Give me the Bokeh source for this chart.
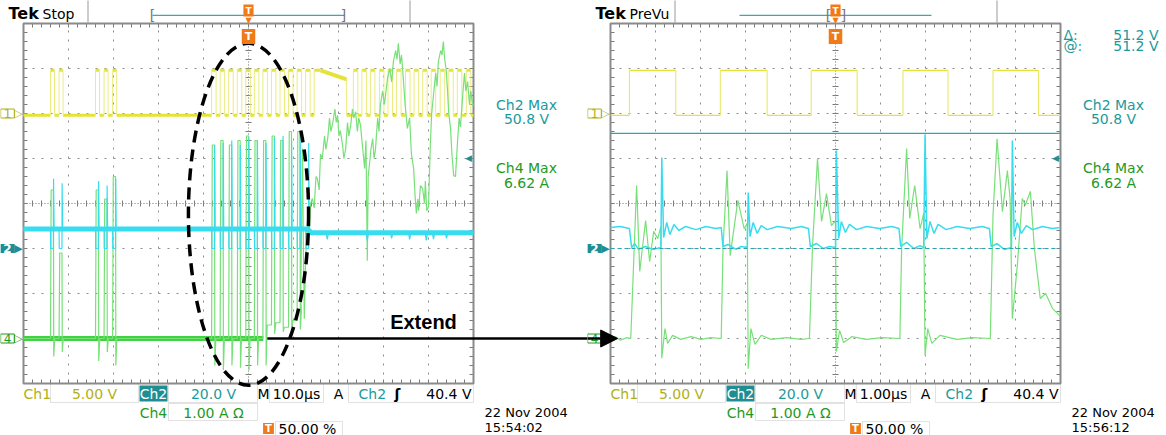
import numpy as np
from bokeh.plotting import figure
from bokeh.layouts import row
from bokeh.models import Range1d, Label, BoxAnnotation, Arrow, NormalHead
from bokeh.embed import file_html
from bokeh.resources import INLINE

# ---------------- scope settings ----------------
ch1_scale, ch2_scale, ch4_scale = 5.0, 20.0, 1.0      # V/div, V/div, A/div
ch1_pos, ch2_pos, ch4_pos = 2.0, -1.0, -3.0           # ground markers (div from centre)
trigger_level = 40.4                                  # V on Ch2
ch2_max, ch4_max = 50.8, 6.62
cursor_a, cursor_b = 0.0, 51.2                        # Ch2 cursors (V)
tb_stop, tb_prevu = 10.0, 1.0                         # µs/div
trigger_pos = 50.00                                   # %

# ---------------- left screen: Stop, 10 µs/div ----------------
ch1_high, ch1_low = 4.8, -0.2
ch1_stop_rise = [-44.0, -42.1, -34.0, -32.1, -30.2, -8.2, -6.3, -4.4, -2.5, -0.6, 1.3, 3.2,
                 5.1, 7.0, 8.9, 10.8, 12.7, 14.6, 23.3, 25.2, 27.1, 29.1, 31.0, 32.9, 34.9,
                 36.8, 38.7, 40.6, 42.6, 44.5, 46.4, 48.4]
ch1_stop_fall = [-43.1, -41.2, -33.1, -31.2, -29.3, -7.2, -5.3, -3.4, -1.5, 0.4, 2.3, 4.2,
                 6.1, 8.0, 9.9, 11.8, 13.7, 21.8, 24.3, 26.2, 28.1, 30.1, 32.0, 33.9, 35.9,
                 37.8, 39.7, 41.6, 43.6, 45.5, 47.4, 49.4]
ch1_stop_sag_t = [16.0, 21.8]
ch1_stop_sag_v = [4.8, 3.8]

ch2_stop_base_t = [-50.0, 13.0, 14.0, 50.0]
ch2_stop_base_v = [8.7, 8.7, 7.0, 7.0]
ch2_stop_pulse_t = [-44.0, -42.1, -34.0, -32.1, -30.2, -8.2, -6.3, -4.4, -2.5, -0.6, 1.3,
                    3.2, 5.1, 7.0, 8.9, 10.8, 12.7]
ch2_stop_peak = [31, 29, 30, 28, 31, 46, 47, 48, 46, 49, 48, 47, 49, 50, 48, 50.8, 47]
ch2_stop_dip_t = [17.5, 26.4, 31.8, 35.8, 39.5, 41.1, 44.0]
ch2_stop_dip_v = [4.0, 3.5, 4.5, 4.0, 3.6, 4.2, 4.5]
ch2_low_time = 0.65                                    # µs spent near 0 V per switching event

ch4_stop_base_t = [-50.0, 3.3]
ch4_stop_pulse_t = [-44.0, -42.1, -34.0, -32.1, -30.2, -8.2, -6.3, -4.4, -2.5, -0.6, 1.3,
                    3.2, 5.1, 7.0, 8.9, 10.8]
ch4_stop_peak = [3.3, 1.9, 3.3, 3.1, 3.6, 4.3, 4.4, 4.3, 4.4, 4.5, 4.4, 4.4, 4.5, 4.4, 4.6, 4.6]
ch4_stop_dip = [-0.4, -0.3, -0.5, -0.3, -0.6, -0.6, -0.7, -0.6, -0.65, -0.7, -0.6, -0.6,
                0.1, 0.15, 0.1, 0.2]
ch4_stop_floor = [0, 0, 0, 0, 0, 0, 0, 0, 0, 0, 0, 0.3, 0.35, 0.25, 0.4, 0.6]
ch4_stop_tail_t = [11.6, 11.8, 12.0, 12.2, 12.4, 12.7, 13.1, 13.5, 13.8, 14.2, 14.6, 15.0,
                   15.3, 15.7, 16.0, 16.4, 16.9, 17.2, 17.6, 18.0, 18.3, 18.7, 19.2, 19.5,
                   19.8, 20.1, 20.4, 20.9, 21.2, 21.6, 22.0, 22.3, 22.7, 23.1, 23.4, 23.8,
                   24.2, 24.5, 24.9, 25.3, 25.8, 26.1, 26.4, 26.6, 26.9, 27.2, 27.6, 27.9,
                   28.2, 28.7, 29.0, 29.3, 29.8, 30.2, 30.9, 31.4, 31.8, 32.2, 32.7, 33.0,
                   33.3, 33.7, 34.0, 34.4, 34.8, 35.3, 35.8, 36.2, 36.7, 37.0, 37.3, 37.6,
                   37.8, 38.2, 38.7, 39.1, 39.3, 39.6, 40.0, 40.4, 40.7, 41.1, 41.6, 41.9,
                   42.2, 42.7, 43.0, 43.3, 43.6, 43.9, 44.2, 44.5, 44.9, 45.2, 45.6, 46.0,
                   46.4, 46.8, 47.1, 47.6, 48.0, 48.3, 48.7, 49.1, 49.4, 49.8, 50.0]
ch4_stop_tail_a = [0.89, 2.5, 4.22, 2.0, 0.44, 1.8, 2.6, 2.3, 3.0, 3.11, 2.9, 3.6,
                   3.56, 3.3, 4.1, 4.0, 4.5, 4.2, 4.44, 4.9, 4.6, 4.78, 5.1, 4.8,
                   4.96, 4.5, 4.62, 4.3, 4.0, 4.22, 4.8, 4.5, 4.73, 5.1, 4.9, 5.04,
                   4.6, 4.9, 4.73, 4.3, 3.78, 4.4, 1.73, 3.6, 3.89, 4.2, 4.44, 4.0,
                   4.18, 4.9, 4.6, 5.18, 5.5, 5.2, 5.78, 6.0, 5.7, 6.16, 6.4, 6.2,
                   6.56, 6.1, 6.3, 5.78, 5.2, 4.67, 4.9, 4.1, 3.78, 3.2, 2.78, 3.1,
                   2.84, 3.4, 3.33, 3.0, 3.5, 2.84, 2.93, 4.29, 5.0, 5.4, 5.9, 5.6,
                   6.16, 6.4, 6.3, 6.6, 6.2, 6.0, 5.56, 5.0, 4.67, 4.1, 3.62, 3.6,
                   4.29, 4.9, 4.7, 5.4, 5.9, 5.5, 5.71, 5.2, 5.5, 5.18, 5.22]

# ---------------- right screen: PreVu, 1 µs/div ----------------
ch1_prevu_rise = [-4.58, -2.56, -0.54, 1.50, 3.50]
ch1_prevu_fall = [-3.55, -1.52, 0.48, 2.50, 4.51]

ch2_prevu_t = [-5.0, -4.78, -4.58, -4.53, -4.46, -4.38, -4.22, -4.06, -3.88, -3.86,
               -3.82, -3.75, -3.68, -3.59, -3.48, -3.33, -3.10, -2.88, -2.66, -2.54,
               -2.50, -2.39, -2.21, -2.10, -1.96, -1.94, -1.90, -1.83, -1.74, -1.65,
               -1.52, -1.29, -0.98, -0.76, -0.60, -0.56, -0.42, -0.27, -0.13, 0.0,
               0.02, 0.07, 0.13, 0.22, 0.31, 0.47, 0.69, 0.98, 1.25, 1.41,
               1.45, 1.58, 1.74, 1.88, 1.96, 1.99, 2.03, 2.10, 2.19, 2.28,
               2.46, 2.70, 2.99, 3.26, 3.42, 3.46, 3.59, 3.75, 3.91, 3.93,
               3.97, 4.04, 4.13, 4.24, 4.38, 4.60, 4.82, 5.0]
ch2_prevu_v = [9.3, 9.8, 8.9, 0.4, 2.2, -0.4, 0.9, -0.4, 0.4, 40.4,
               4.9, 11.6, 6.2, 10.7, 8.0, 9.8, 8.4, 9.8, 8.9, 9.3,
               0.9, 1.8, -0.4, 0.9, 0.4, 24.9, 5.3, 11.6, 6.7, 10.2,
               8.4, 9.8, 8.9, 9.8, 8.9, 0.9, 2.2, 0.0, 0.9, 0.4,
               43.6, 4.4, 12.0, 7.1, 10.7, 8.4, 9.8, 8.9, 9.8, 8.9,
               0.9, 2.7, 0.0, 1.3, 0.4, 50.8, 4.4, 12.0, 6.7, 10.7,
               8.4, 9.8, 8.9, 9.8, 8.9, 0.9, 2.2, -0.4, 0.4, 48.0,
               5.3, 11.6, 6.7, 10.2, 8.4, 9.8, 8.9, 9.3]

ch4_prevu_t = [-5.0, -4.89, -4.78, -4.64, -4.55, -4.42, -4.35, -4.22, -4.13, -4.04,
               -3.95, -3.88, -3.86, -3.79, -3.73, -3.62, -3.44, -3.21, -2.99, -2.77,
               -2.54, -2.50, -2.41, -2.34, -2.17, -2.03, -1.96, -1.94, -1.88, -1.79,
               -1.65, -1.43, -1.09, -0.76, -0.58, -0.51, -0.40, -0.31, -0.20, -0.09,
               0.0, 0.02, 0.09, 0.18, 0.36, 0.69, 1.03, 1.43, 1.47, 1.58,
               1.65, 1.76, 1.88, 1.96, 1.99, 2.05, 2.14, 2.32, 2.70, 3.04,
               3.44, 3.50, 3.59, 3.71, 3.82, 3.88, 3.93, 4.04, 4.15, 4.22,
               4.33, 4.42, 4.55, 4.67, 4.82, 5.0]
ch4_prevu_a = [0.0, 0.04, -0.04, 0.02, 0.0, 3.4, 1.49, 2.62, 1.71, 2.38,
               2.22, 2.49, -0.44, 0.22, -0.11, 0.07, -0.02, 0.04, -0.02, 0.02,
               0.0, 2.0, 3.73, 1.84, 3.07, 2.44, 2.56, -0.67, 0.22, -0.13,
               0.07, -0.02, 0.02, -0.02, 0.0, 2.07, 4.0, 2.6, 3.22, 2.51,
               2.62, -0.29, 0.18, -0.09, 0.04, -0.02, 0.02, 0.0, 2.0, 4.22,
               2.67, 3.4, 2.44, 2.78, -0.38, 0.22, -0.11, 0.07, -0.02, 0.02,
               0.0, 2.73, 4.44, 2.82, 3.73, 3.11, 0.44, 1.62, 3.11, 2.96,
               3.27, 2.0, 0.89, 1.0, 0.67, 0.49]

# ---------------- styling / screen geometry ----------------
FONT = "DejaVu Sans"
YELLOW, YELLOW_THIN = "#e4e436", "#ecec80"
CYAN, GREEN, GREEN_THIN = "#38dcef", "#3fd43f", "#78e078"
CH1_TXT, CH2_TXT, CH2_BADGE, CH4_TXT = "#b0b016", "#1b9a9c", "#1f8e93", "#1e9a1e"
ORANGE, GRAY = "#ef7a17", "#8c8c8c"
DIV = 45                  # pixels per graticule division
M_LEFT, M_TOP, M_BOTTOM = 23, 23, 52
HEIGHT = 435


def lbl(p, x, y, text, color="black", size=14, align="center", bold=False, bg=None,
        border=None, pad=0, xu="screen", yu="screen", yr="default", font=FONT):
    """Text placed relative to the graticule's lower-left corner (screen units)."""
    if xu == "screen":
        x = x + M_LEFT
    if yu == "screen":
        y = y + M_BOTTOM
    p.add_layout(Label(x=x, y=y, x_units=xu, y_units=yu, y_range_name=yr, text=text,
                       text_color=color, text_font=font, text_font_size=f"{size}px",
                       text_font_style="bold" if bold else "normal", text_align=align,
                       text_baseline="middle", background_fill_color=bg,
                       border_line_color=border, padding=pad))


def sbox(p, l, r, b, t, fill=None, line="#a0a0a0"):
    p.add_layout(BoxAnnotation(left=l + M_LEFT, right=r + M_LEFT, bottom=b + M_BOTTOM,
                               top=t + M_BOTTOM, left_units="screen", right_units="screen",
                               bottom_units="screen", top_units="screen",
                               fill_color=fill, fill_alpha=1.0 if fill else 0.0,
                               line_color=line, line_width=1, level="underlay"))


def make_scope(width, tb):
    half = 5 * tb
    x0 = -half - M_LEFT / DIV * tb
    y0 = -4 - M_BOTTOM / DIV
    y1 = y0 + HEIGHT / DIV
    p = figure(width=width, height=HEIGHT, output_backend="svg", toolbar_location=None,
               x_range=Range1d(x0, x0 + width / DIV * tb), y_range=Range1d(y0, y1),
               x_axis_location=None, y_axis_location=None, min_border=0,
               outline_line_color=None, background_fill_color="white",
               border_fill_color="white")
    p.grid.visible = False
    p.extra_y_ranges = {
        "ch1": Range1d((y0 - ch1_pos) * ch1_scale, (y1 - ch1_pos) * ch1_scale),
        "ch2": Range1d((y0 - ch2_pos) * ch2_scale, (y1 - ch2_pos) * ch2_scale),
        "ch4": Range1d((y0 - ch4_pos) * ch4_scale, (y1 - ch4_pos) * ch4_scale),
    }
    # graticule: dotted division lines
    xs = [k * tb for k in (-4, -3, -2, -1, 1, 2, 3, 4)]
    ys = [-3, -2, -1, 1, 2, 3]
    p.segment(x0=xs, y0=-4, x1=xs, y1=4, line_color=GRAY, line_dash="2 7", line_width=1)
    p.segment(x0=-half, y0=ys, x1=half, y1=ys, line_color=GRAY, line_dash="2 7", line_width=1)
    p.segment(x0=[0, -half], y0=[-4, 0], x1=[0, half], y1=[4, 0], line_color="#707070",
              line_dash="1 2", line_width=1)
    # fifth-of-division ticks on the border and on the centre lines
    xt = [round(k * tb / 5, 6) for k in range(-24, 25)]
    yt = [round(k / 5, 6) for k in range(-19, 20)]
    tick = dict(length_units="screen", line_color="#7a7a7a", line_width=1)
    p.ray(x=xt, y=-4, length=4, angle=np.pi / 2, **tick)
    p.ray(x=xt, y=4, length=4, angle=-np.pi / 2, **tick)
    p.ray(x=-half, y=yt, length=4, angle=0, **tick)
    p.ray(x=half, y=yt, length=4, angle=np.pi, **tick)
    p.ray(x=xt, y=0, length=3, angle=np.pi / 2, **tick)
    p.ray(x=xt, y=0, length=3, angle=-np.pi / 2, **tick)
    p.ray(x=0, y=yt, length=3, angle=0, **tick)
    p.ray(x=0, y=yt, length=3, angle=np.pi, **tick)
    p.quad(left=-half, right=half, bottom=-4, top=4, fill_color=None,
           line_color="#8a8a8a", line_width=2)
    return p


def chrome(p, status, tb_text, date_text, time_text, prevu):
    # status bar
    lbl(p, -15, 370, "Tek", size=16, align="left", bold=True)
    lbl(p, 19, 370, status, size=14, align="left")
    sbox(p, 64, 65, 361, 384, fill="#9a9a9a", line=None)
    sbox(p, 386, 387, 361, 384, fill="#9a9a9a", line=None)
    sbox(p, 129, 321, 367.6, 368.8, fill="#3aa9b4", line=None)
    if prevu:
        lbl(p, 218, 369, "[", color="#777", size=14)
        lbl(p, 233, 369, "]", color="#777", size=14)
    else:
        lbl(p, 129, 369, "[", color="#777", size=14)
        lbl(p, 320, 369, "]", color="#777", size=14)
    lbl(p, 0, 373, "T", color="white", size=9, bold=True, bg=ORANGE, pad=(2, 1), xu="data")
    lbl(p, 0, 363, "▼", color=ORANGE, size=8, xu="data")
    lbl(p, 0, 347, "T", color="white", size=11, bold=True, bg=ORANGE, pad=(3, 1), xu="data")

    # channel ground markers
    lbl(p, -16, 0.0, "1", color=CH1_TXT, size=12, border=CH1_TXT, bg="white",
        pad=(3, 0), yu="data", yr="ch1")
    lbl(p, -5, 0.0, "▷", color=CH1_TXT, size=11, yu="data", yr="ch1")
    lbl(p, -16, 0.0, "2", color="white", size=12, bold=True, bg=CH2_BADGE, pad=(3, 0),
        yu="data", yr="ch2")
    lbl(p, -5, 0.0, "▶", color=CH2_BADGE, size=11, yu="data", yr="ch2")
    lbl(p, -16, 0.0, "4", color=CH4_TXT, size=12, border=CH4_TXT, bg="white", pad=(3, 0),
        yu="data", yr="ch4")
    lbl(p, -5, 0.0, "▷", color=CH4_TXT, size=11, yu="data", yr="ch4")
    # trigger level indicator on the right edge
    lbl(p, 445, trigger_level, "◀", color=CH2_BADGE, size=9, yu="data", yr="ch2")

    # measurement readouts
    lbl(p, 503, 279, "Ch2 Max", color=CH2_TXT)
    lbl(p, 503, 265, f"{ch2_max:.1f} V", color=CH2_TXT)
    lbl(p, 503, 216, "Ch4 Max", color=CH4_TXT)
    lbl(p, 503, 201, f"{ch4_max:.2f} A", color=CH4_TXT)
    if prevu:
        lbl(p, 453, 349, "Δ:", color=CH2_TXT, align="left")
        lbl(p, 548, 349, f"{cursor_b - cursor_a:.1f} V", color=CH2_TXT, align="right")
        lbl(p, 453, 338, "@:", color=CH2_TXT, align="left")
        lbl(p, 548, 338, f"{cursor_b:.1f} V", color=CH2_TXT, align="right")

    # bottom settings readout
    lbl(p, 0, -10, "Ch1", color=CH1_TXT, align="left")
    sbox(p, 27, 115, -19, 0)
    lbl(p, 71, -10, f"{ch1_scale:.2f} V", color=CH1_TXT)
    sbox(p, 116, 144, -18, -2, fill=CH2_BADGE, line=None)
    lbl(p, 130, -10, "Ch2", color="white")
    sbox(p, 145, 234, -19, 0)
    lbl(p, 190, -10, f"{ch2_scale:.1f} V", color=CH2_TXT)
    lbl(p, 240, -10, "M")
    sbox(p, 246, 300, -19, 0)
    lbl(p, 273, -10, tb_text)
    lbl(p, 315, -10, "A")
    sbox(p, 325, 450, -19, 0)
    lbl(p, 335, -10, "Ch2", color=CH2_TXT, align="left")
    lbl(p, 374, -10, "ʃ", bold=True)
    lbl(p, 448, -10, f"{trigger_level:.1f} V", align="right")
    lbl(p, 130, -29, "Ch4", color=CH4_TXT)
    sbox(p, 145, 234, -37, -20)
    lbl(p, 190, -29, f"{ch4_scale:.2f} A Ω", color=CH4_TXT)
    lbl(p, 245, -45, "T", color="white", size=10, bold=True, bg=ORANGE, pad=(2, 0))
    sbox(p, 252, 319, -56, -38)
    lbl(p, 255, -45, f"{trigger_pos:.2f} %", align="left")
    lbl(p, 461, -29, date_text, size=13, align="left")
    lbl(p, 461, -44, time_text, size=13, align="left")


def square(p, rise, fall, t0, t1, width, thin, sag_t=None, sag_v=None):
    fall_v = [sag_v[-1] if (sag_t and f == sag_t[-1]) else ch1_high for f in fall]
    hi_end = [sag_t[0] if (sag_t and f == sag_t[-1]) else f for f in fall]
    p.segment(x0=[t0] + list(fall), y0=ch1_low, x1=list(rise) + [t1], y1=ch1_low,
              line_color=YELLOW, line_width=width, y_range_name="ch1")
    p.segment(x0=rise, y0=ch1_high, x1=hi_end, y1=ch1_high,
              line_color=YELLOW, line_width=width, y_range_name="ch1")
    if sag_t:
        p.line(sag_t, sag_v, line_color=YELLOW, line_width=width + 1, y_range_name="ch1")
    p.segment(x0=rise, y0=ch1_low, x1=rise, y1=ch1_high,
              line_color=thin, line_width=1, y_range_name="ch1")
    p.segment(x0=fall, y0=fall_v, x1=fall, y1=ch1_low,
              line_color=thin, line_width=1, y_range_name="ch1")


# ================= left screen =================
left = make_scope(587, tb_stop)
square(left, ch1_stop_rise, ch1_stop_fall, -5 * tb_stop, 5 * tb_stop, 3, YELLOW_THIN,
       ch1_stop_sag_t, ch1_stop_sag_v)

# Ch4 current: switching pulses, then the run-away section
gx, gy = [-5 * tb_stop], [0.0]
prev = 0.0
for t, pk, dp, fl in zip(ch4_stop_pulse_t, ch4_stop_peak, ch4_stop_dip, ch4_stop_floor):
    gx += [t, t + 0.15, t + ch2_low_time, t + ch2_low_time + 0.07, t + 0.95]
    gy += [prev, pk, pk, dp, fl]
    prev = fl
gx += ch4_stop_tail_t
gy += ch4_stop_tail_a
left.line(ch4_stop_base_t, [0.0, 0.0], line_color=GREEN, line_width=5, y_range_name="ch4")
left.line(gx, gy, line_color=GREEN_THIN, line_width=1.2, y_range_name="ch4")

# Ch2 voltage
cx, cy = [], []
level = ch2_stop_base_v[0]
cx.append(ch2_stop_base_t[0]); cy.append(level)
for t, pk in zip(ch2_stop_pulse_t, ch2_stop_peak):
    cx += [t, t + 0.05, t + ch2_low_time, t + ch2_low_time + 0.03, t + 0.8]
    cy += [level, 0.0, 0.0, pk, level]
cx += ch2_stop_base_t[1:3]
cy += ch2_stop_base_v[1:3]
for t, v in zip(ch2_stop_dip_t, ch2_stop_dip_v):
    cx += [t - 0.25, t, t + 0.3]
    cy += [ch2_stop_base_v[-1], v, ch2_stop_base_v[-1]]
cx.append(ch2_stop_base_t[-1]); cy.append(ch2_stop_base_v[-1])
left.line(ch2_stop_base_t, ch2_stop_base_v, line_color=CYAN, line_width=5, y_range_name="ch2")
left.line(cx, cy, line_color=CYAN, line_width=1.2, y_range_name="ch2")

# highlighted region and hand-off arrow
left.ellipse(x=[0.0], y=[-0.24], width=[26.7], height=[7.6], fill_color=None,
             line_color="black", line_width=3.5, line_dash="12 7")
left.add_layout(Arrow(end=None, x_start=4.2, y_start=0.0, x_end=90.0, y_end=0.0,
                      y_range_name="ch4", line_color="black", line_width=2.5))
lbl(left, 400, 62, "Extend", size=20, bold=True, font="Liberation Sans")
chrome(left, "Stop", f"{tb_stop:.1f}µs", "22 Nov 2004", "15:54:02", prevu=False)

# ================= right screen =================
right = make_scope(579, tb_prevu)
square(right, ch1_prevu_rise, ch1_prevu_fall, -5 * tb_prevu, 5 * tb_prevu, 1.3, "#e6e65a")
right.line(ch4_prevu_t, ch4_prevu_a, line_color=GREEN_THIN, line_width=1.2, y_range_name="ch4")
right.line(ch2_prevu_t, ch2_prevu_v, line_color=CYAN, line_width=1.5, y_range_name="ch2")
right.line([-5 * tb_prevu, 5 * tb_prevu], [cursor_b, cursor_b], line_color="#2aa6b0",
           line_width=1.2, y_range_name="ch2")
right.line([-5 * tb_prevu, 5 * tb_prevu], [cursor_a, cursor_a], line_color="#2aa6b0",
           line_width=1.2, line_dash="4 3", y_range_name="ch2")
chrome(right, "PreVu", f"{tb_prevu:.2f}µs", "22 Nov 2004", "15:56:12", prevu=True)
right.add_layout(Arrow(end=NormalHead(size=17, fill_color="black", line_color="black"),
                       x_start=-7.0, y_start=0.0, x_end=-4.84, y_end=0.0,
                       y_range_name="ch4", line_color="black", line_width=2.5))

layout = row(left, right)
open("out.html", "w").write(file_html(layout, INLINE))
